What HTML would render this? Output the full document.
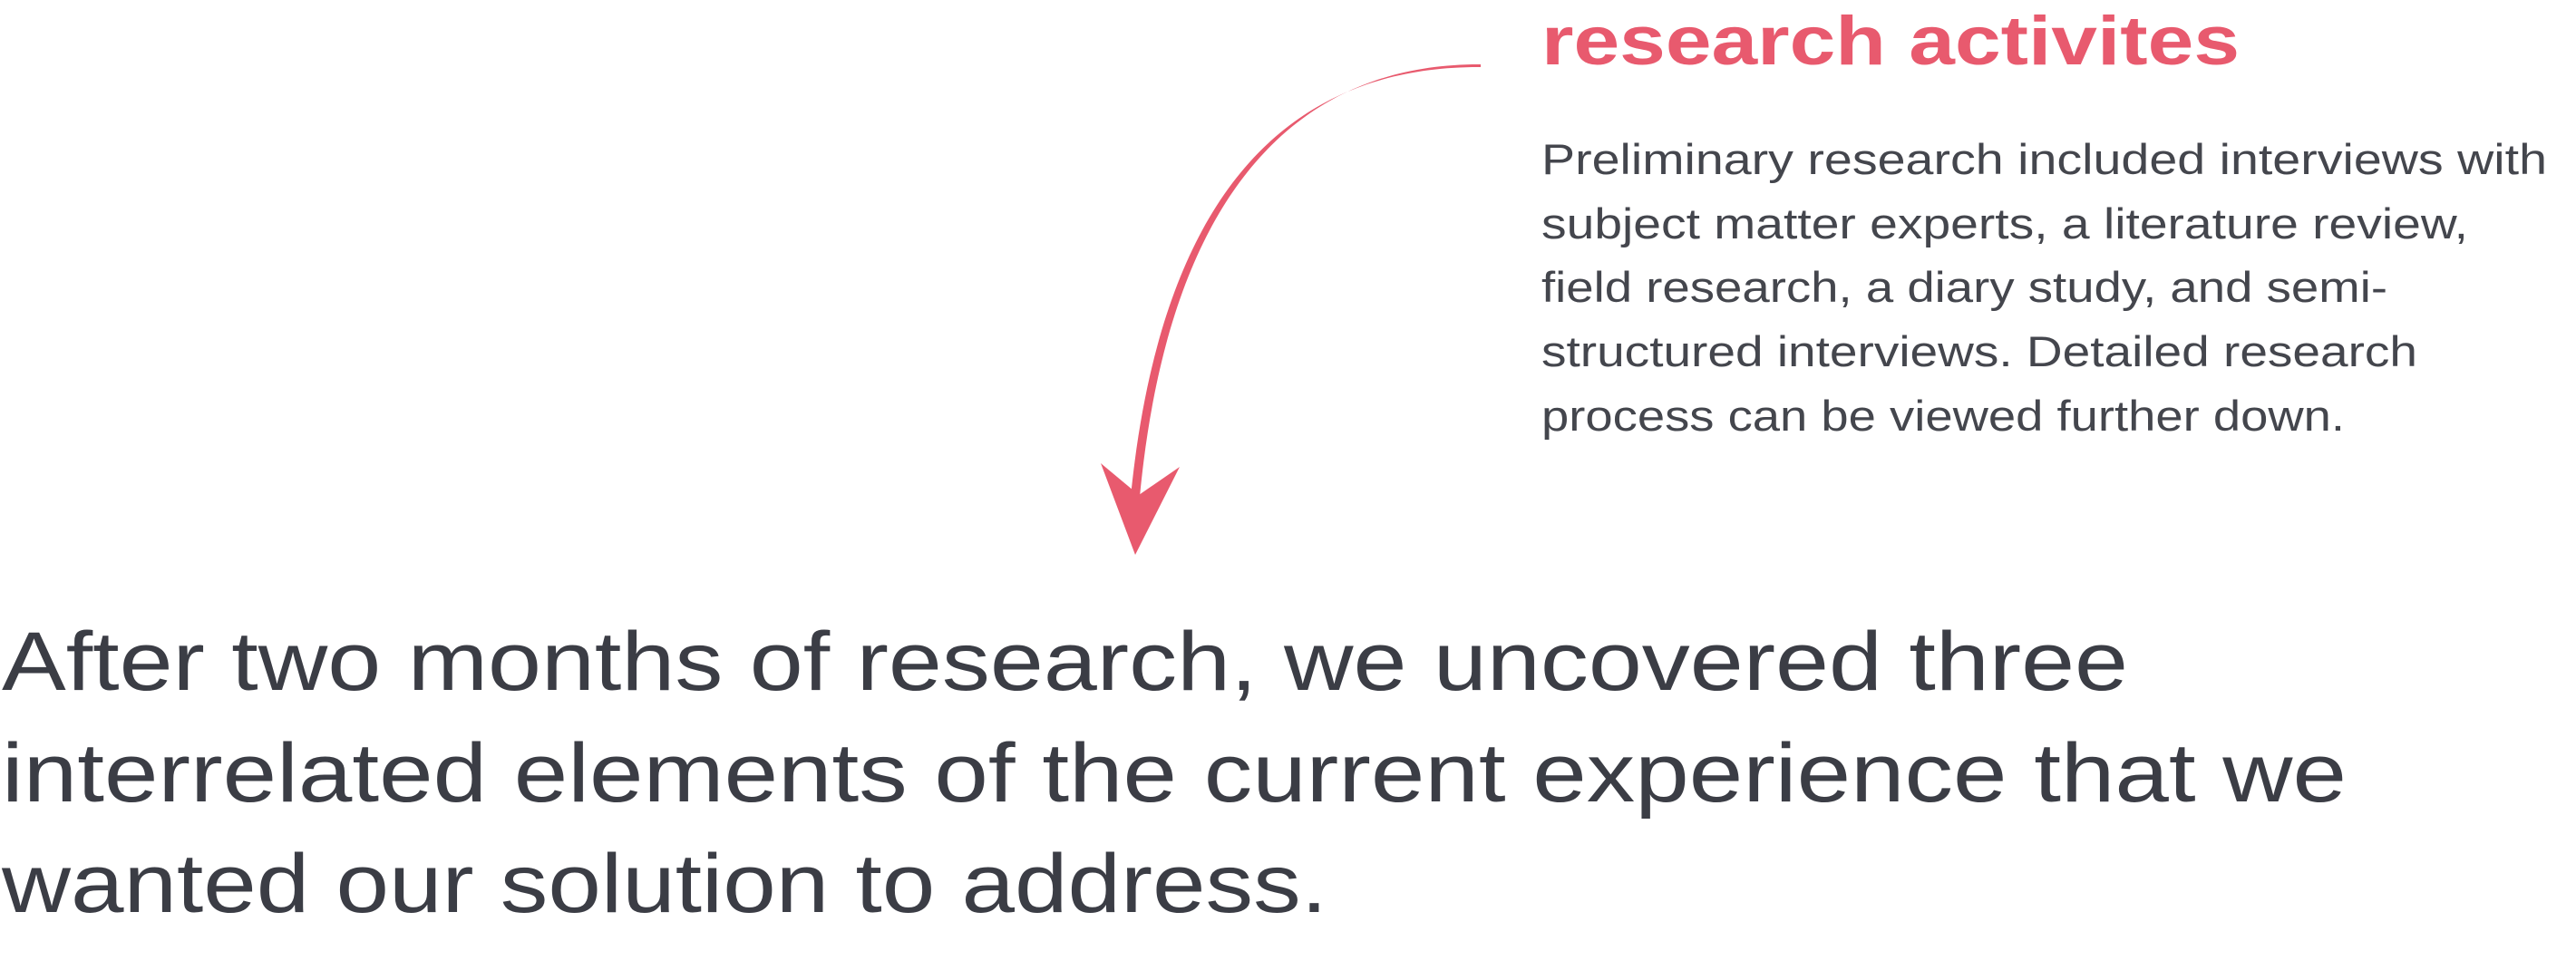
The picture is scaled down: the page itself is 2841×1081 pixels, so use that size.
<!DOCTYPE html>
<html><head><meta charset="utf-8"><style>
html,body{margin:0;padding:0;background:#fff;width:2841px;height:1081px;overflow:hidden}
svg{display:block}
</style></head><body>
<svg width="2841" height="1081" viewBox="0 0 2841 1081" xmlns="http://www.w3.org/2000/svg">
  <g fill="#e85a6e">
    <path d="M1633,71 C1440,70 1290,200 1257,548 L1247,548 C1282,198 1432,73 1633,74 Z"/>
    <path d="M1214,511 L1256,546 L1301,515 L1252,612 Z"/>
  </g>
  <text x="1700" y="71" fill="#e85a6e" font-family="Liberation Sans, sans-serif" font-weight="bold" font-size="76" textLength="770" lengthAdjust="spacingAndGlyphs">research activites</text>
  <g fill="#44464d" font-family="Liberation Sans, sans-serif" font-size="47">
    <text x="1700" y="192" textLength="1109" lengthAdjust="spacingAndGlyphs">Preliminary research included interviews with</text>
    <text x="1700" y="263" textLength="1022" lengthAdjust="spacingAndGlyphs">subject matter experts, a literature review,</text>
    <text x="1700" y="333" textLength="933" lengthAdjust="spacingAndGlyphs">field research, a diary study, and semi-</text>
    <text x="1700" y="404" textLength="966" lengthAdjust="spacingAndGlyphs">structured interviews. Detailed research</text>
    <text x="1700" y="475" textLength="886" lengthAdjust="spacingAndGlyphs">process can be viewed further down.</text>
  </g>
  <g fill="#3b3d45" font-family="Liberation Sans, sans-serif" font-size="92">
    <text x="2" y="761" textLength="2345" lengthAdjust="spacingAndGlyphs">After two months of research, we uncovered three</text>
    <text x="2" y="884" textLength="2586" lengthAdjust="spacingAndGlyphs">interrelated elements of the current experience that we</text>
    <text x="2" y="1006" textLength="1462" lengthAdjust="spacingAndGlyphs">wanted our solution to address.</text>
  </g>
</svg>
</body></html>
